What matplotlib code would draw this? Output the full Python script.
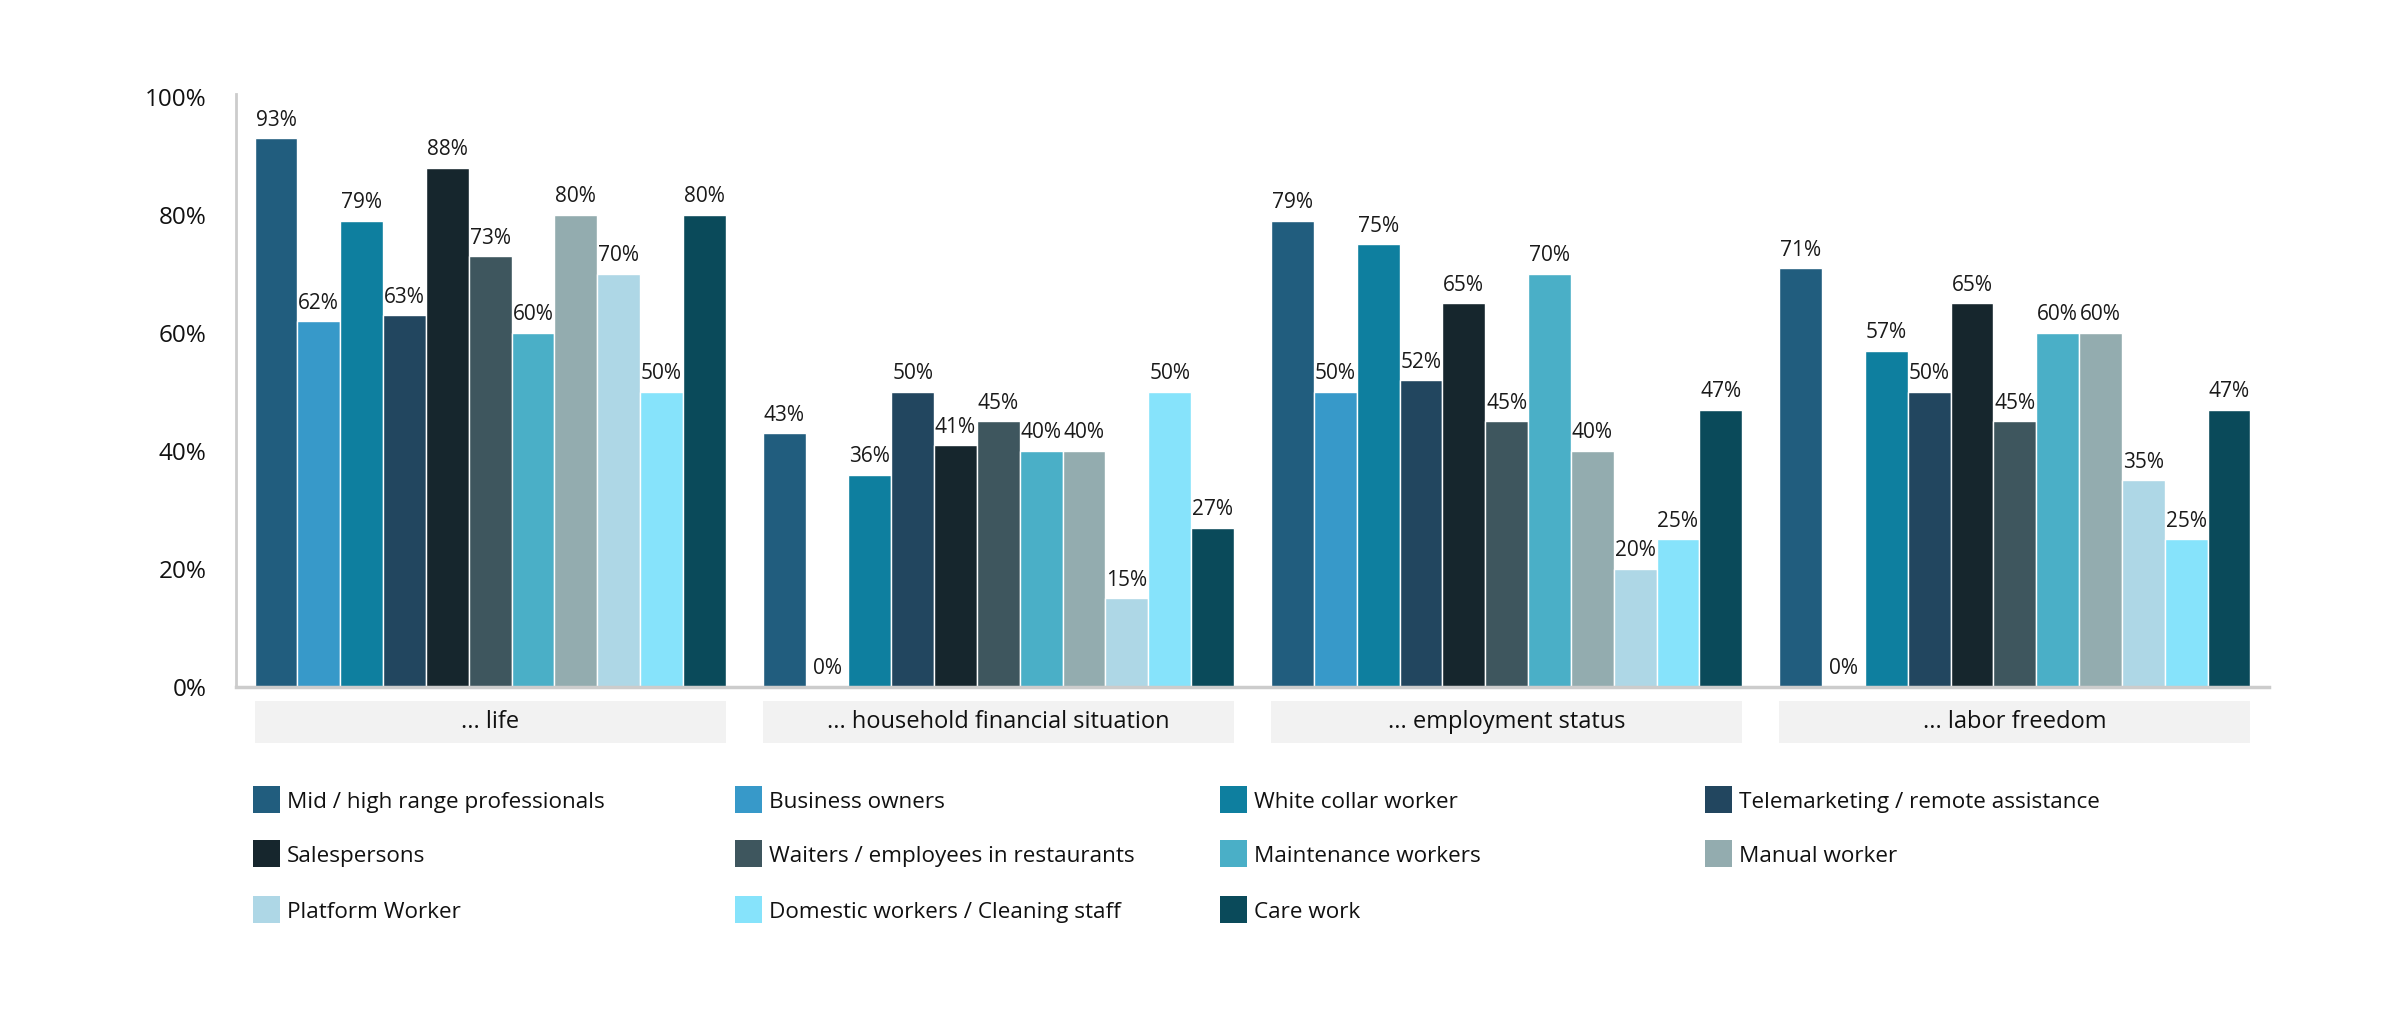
import matplotlib
matplotlib.use("Agg")
import matplotlib.pyplot as plt
from matplotlib.patches import Rectangle
import matplotlib.transforms as mtransforms
import numpy as np

plt.rcParams['font.family'] = ['Open Sans', 'DejaVu Sans']

groups = ["... life", "... household financial situation", "... employment status", "... labor freedom"]
series = ["Mid / high range professionals", "Business owners", "White collar worker",
          "Telemarketing / remote assistance", "Salespersons", "Waiters / employees in restaurants",
          "Maintenance workers", "Manual worker", "Platform Worker",
          "Domestic workers / Cleaning staff", "Care work"]
colors = ["#215d7e", "#3799c9", "#0e7f9f", "#22465f", "#16262d", "#3e565e",
          "#4aafc7", "#93acaf", "#aed7e6", "#86e3fb", "#0a4a5a"]

life = [93, 62, 79, 63, 88, 73, 60, 80, 70, 50, 80]
household = [43, 0, 36, 50, 41, 45, 40, 40, 15, 50, 27]
employment = [79, 50, 75, 52, 65, 45, 70, 40, 20, 25, 47]
labor = [71, 0, 57, 50, 65, 45, 60, 60, 35, 25, 47]
yticks = [0, 20, 40, 60, 80, 100]

data = np.array([life, household, employment, labor]) / 100.0  # groups x series

W, H = 2400, 1032
fig = plt.figure(figsize=(W / 100, H / 100), dpi=100)
ax_left, ax_right, ax_top, ax_bot = 236, 2269, 94, 687
ax = fig.add_axes([ax_left / W, 1 - ax_bot / H, (ax_right - ax_left) / W, (ax_bot - ax_top) / H])

n = len(series)
span = 0.927
bw = span / n
x = np.arange(len(groups))
for i in range(n):
    xs = x + (i - (n - 1) / 2) * bw
    vals = data[:, i]
    ax.bar(xs, vals, width=bw, color=colors[i], edgecolor="white", linewidth=1.0, zorder=2)
    for xx, v in zip(xs, vals):
        ax.annotate(f"{int(round(v * 100))}%", (xx, v), xytext=(0, 9), textcoords="offset points",
                    ha="center", va="baseline", fontsize=15, color="#1a1a1a")

ax.set_xlim(-0.5, len(groups) - 0.5)
ax.set_ylim(0, 1.005)
ax.set_yticks([t / 100 for t in yticks])
ax.set_yticklabels([f"{t}%" for t in yticks], fontsize=17.5, color="#111111")
ax.tick_params(axis="y", length=0, pad=21)
ax.set_xticks([])
for s in ["top", "right"]:
    ax.spines[s].set_visible(False)
ax.spines["left"].set_color("#cccccc")
ax.spines["left"].set_linewidth(2)
ax.spines["bottom"].set_color("#cccccc")
ax.spines["bottom"].set_linewidth(2.5)
ax.spines["bottom"].set_zorder(3)

# category label boxes
trans = mtransforms.blended_transform_factory(ax.transData, ax.transAxes)
h_px = ax_bot - ax_top
y0 = -(743 - ax_bot) / h_px
y1 = -(701 - ax_bot) / h_px
for gi, g in enumerate(groups):
    ax.add_patch(Rectangle((gi - span / 2, y0), span, y1 - y0, transform=trans,
                           facecolor="#f2f2f2", edgecolor="none", clip_on=False))
    ax.text(gi, (y0 + y1) / 2, g, transform=trans, ha="center", va="center",
            fontsize=17, color="#111111", fontweight=500)

# legend (row-major, 4 columns)
col_x = [253, 735, 1220, 1705]
row_y = [799, 853, 909]
sq = 27
for i, (name, c) in enumerate(zip(series, colors)):
    r, cidx = divmod(i, 4)
    lx, ly = col_x[cidx], row_y[r]
    fig.add_artist(Rectangle((lx / W, 1 - (ly + sq / 2) / H), sq / W, sq / H,
                             transform=fig.transFigure, facecolor=c, edgecolor="none"))
    fig.text((lx + sq + 7) / W, 1 - (ly + 1) / H, name, ha="left", va="center_baseline",
             fontsize=16.2, color="#111111")

fig.savefig("out.png", dpi=100, facecolor="white")
